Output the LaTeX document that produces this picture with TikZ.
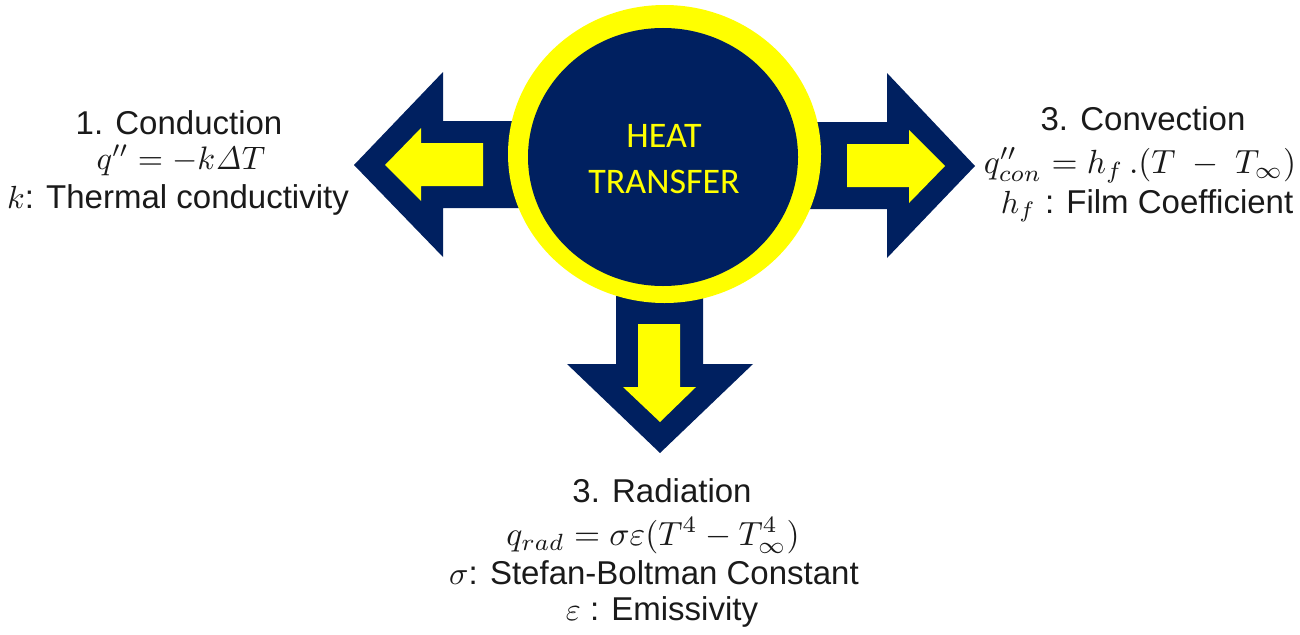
\documentclass[tikz,border=0pt]{standalone}
\usepackage[no-math]{fontspec}
\usetikzlibrary{shapes.geometric}
\setmainfont{Liberation Sans}
\newfontfamily\calib{Carlito}
\definecolor{navy}{HTML}{002060}
\definecolor{yel}{HTML}{FFFF00}
\definecolor{txt}{HTML}{1A1A1A}
\newcommand\mth[2][3.2]{\scalebox{#1}{\fontsize{10}{12}\selectfont$#2$}}
\tikzset{
  outer/.style={fill=navy, draw=none},
  inner/.style={fill=yel, draw=none},
  lbl/.style={anchor=base, inner sep=0pt, text=txt, font=\fontsize{33}{38}\selectfont},
  hlbl/.style={anchor=base, inner sep=0pt, text=yel, font=\calib\fontsize{36}{40}\selectfont},
}
\begin{document}
\begin{tikzpicture}[x=1pt,y=-1pt]
\useasboundingbox (0,0) rectangle (1300,634);
\fill[white] (0,0) rectangle (1300,634);
% left arrow
\fill[outer] (354,165) -- (443,72) -- (443,121) -- (530,121) -- (530,208) -- (443,208) -- (443,257) -- cycle;
\fill[inner] (385,165) -- (421,128) -- (421,143) -- (483,143) -- (483,186) -- (421,186) -- (421,201) -- cycle;
% right arrow
\fill[outer] (975,166) -- (887,73) -- (887,122) -- (800,122) -- (800,209) -- (887,209) -- (887,258) -- cycle;
\fill[inner] (945,166) -- (909,130) -- (909,144) -- (847,144) -- (847,187) -- (909,187) -- (909,203) -- cycle;
% down arrow
\fill[outer] (660,453) -- (567,364) -- (616,364) -- (616,270) -- (703,270) -- (703,364) -- (753,364) -- cycle;
\fill[inner] (660,422) -- (623,387) -- (638,387) -- (638,324) -- (680,324) -- (680,387) -- (696,387) -- cycle;
% circle
\node[ellipse, fill=yel, minimum width=313pt, minimum height=298pt, inner sep=0pt, draw=none] (ring) at (664.5,154) {};
\fill[navy] (663,157) ellipse [x radius=135, y radius=129];
\node[hlbl] (heat) at (664,147) {HEAT};
\node[hlbl] (transfer) at (664,193) {TRANSFER};
% left text
\node[lbl] (c1) at (179,134) {1. Conduction};
\node[lbl] (c2) at (181,169) {\mth[3.25]{q'' = -k\mathit{\Delta} T}};
\node[lbl] (c3) at (178,208) {\mth{k}: Thermal conductivity};
% right text
\node[lbl] (v1) at (1143,130) {3. Convection};
\node[lbl] (v2) at (1140,173) {\mth[3.35]{q''_{con} = h_f\,.(T\ -\ T_\infty)}};
\node[lbl] (v3) at (1147,213) {\mth{h_f} : Film Coefficient};
% bottom text
\node[lbl] (r1) at (662,502) {3. Radiation};
\node[lbl] (r2) at (653,545) {\mth[3.35]{q_{rad} = \sigma\varepsilon(T^4 - T_\infty^4)}};
\node[lbl] (r3) at (654,584) {\mth{\sigma}: Stefan-Boltman Constant};
\node[lbl] (r4) at (662,620) {\mth{\varepsilon} : Emissivity};
\end{tikzpicture}
\end{document}
